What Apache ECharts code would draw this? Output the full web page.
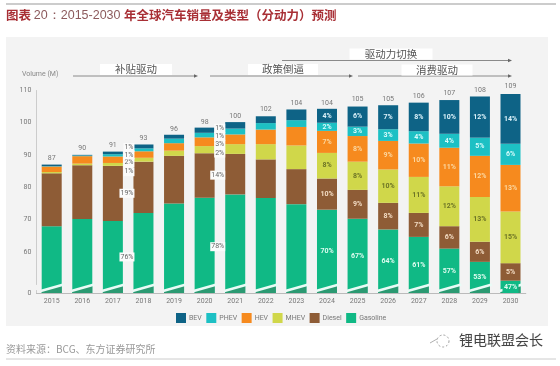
<!DOCTYPE html>
<html><head><meta charset="utf-8">
<style>html,body{margin:0;padding:0;background:#fff}#c{width:560px;height:366px}</style>
<script src="https://cdn.jsdelivr.net/npm/echarts@6/dist/echarts.min.js"></script>
</head><body><div id="c"></div>
<script>
const years=['2015','2016','2017','2018','2019','2020','2021','2022','2023','2024','2025','2026','2027','2028','2029','2030'];
const totals=[87,90,91,93,96,98,100,102,104,104,105,105,106,107,108,109];
const gasoline=[68,70.2,69.6,72.1,75,76.8,77.8,76.7,74.8,73.1,70.3,67,64.7,61.1,57,51.2];
const diesel=[16.3,16.6,17,15.8,14.7,13.7,12.5,11.9,10.8,9.6,8.9,8.2,7.4,6.9,6.2,5.4];
const mhev=[0.4,0.5,0.9,1.2,1.6,2.2,3,4.7,7.3,7.9,8.7,10.3,11.1,12.3,13.8,15.9];
const hev=[1.7,2.3,2,2,2.3,2.7,3,4.5,5.7,6.8,7.9,8.8,10.3,11.9,12.7,14.4];
const phev=[0.1,0.2,0.7,0.9,1.4,1.4,1.8,2,2.1,2.5,2.9,3.6,3.8,4.3,5.6,6.5];
const bev=[0.5,0.2,0.8,1.2,1.2,1.6,2,2.1,3.3,4.3,6.2,7.4,8.8,10.4,12.7,15.4];
const gasolineLabels=['','','','76%','','','78%','','','70%','67%','64%','61%','57%','53%','47%'];
const dieselLabels=['','','','19%','','','14%','','','10%','9%','8%','7%','6%','6%','5%'];
const mhevLabels=['','','','1%','','','2%','','','8%','8%','10%','11%','12%','13%','15%'];
const hevLabels=['','','','2%','','','3%','','','7%','8%','9%','10%','11%','12%','13%'];
const phevLabels=['','','','1%','','','1%','','','2%','3%','3%','4%','4%','5%','6%'];
const bevLabels=['','','','1%','','','1%','','','4%','6%','7%','8%','10%','12%','14%'];
const axisTicks=[0,60,70,80,90,100,110];

const sideYears=['2018','2021'];
const lowYear='2030';
const sideNudge={BEV:[1,3],PHEV:[5,5],HEV:[8,5],MHEV:[12,4],Diesel:[6,1],Gasoline:[4,3]};
function build(name,vals,labs,color,labColor){
  return {name,type:'bar',stack:'t',barWidth:20,itemStyle:{color},
    label:{show:false},
    data:vals.map((v,i)=>{
      const y=years[i],l=labs[i];
      if(!l || (name==='Gasoline' && y===lowYear)) return {value:v};
      if(sideYears.includes(y)){
        const k=sideYears.indexOf(y);
        return {value:v,label:{show:true,position:'left',distance:k==0?-1:0,offset:[0,sideNudge[name][k]],formatter:l,fontSize:7,color:'#666',
          backgroundColor:'#fbfbfb',padding:[1,1],fontFamily:'Roboto'}};
      }
      return {value:v,label:{show:true,position:'inside',formatter:l,fontSize:7,fontWeight:'bold',color:labColor,fontFamily:'Roboto'}};
    })};
}
const series=[
  build('Gasoline',gasoline,gasolineLabels,'#10b985','#dffcf0'),
  build('Diesel',diesel,dieselLabels,'#8e5c36','#f3dcc4'),
  build('MHEV',mhev,mhevLabels,'#d0d74a','#6d7426'),
  build('HEV',hev,hevLabels,'#f68a1e','#fbd7a0'),
  build('PHEV',phev,phevLabels,'#1dc0c4','#d6fbfb'),
  build('BEV',bev,bevLabels,'#0e6386','#dcf2fa'),
  {name:'total',type:'line',data:totals,symbol:'circle',symbolSize:0,showSymbol:true,showAllSymbol:true,lineStyle:{opacity:0,width:0},silent:true,z:5,
    label:{show:true,position:'top',distance:3,fontSize:7,color:'#777',fontFamily:'Roboto'}},
  {name:'break',type:'custom',silent:true,z:6,data:years.map((y,i)=>[i,0]),clip:false,
    renderItem(params,api){
      const i=api.value(0),p=api.coord([i,0]),x=p[0],y=p[1];
      const kids=[
        {type:'polygon',shape:{points:[[x-10,y],[x+10,y],[x+10,y-7],[x-10,y-2]]},style:{fill:'#2b9a72'}},
        {type:'line',shape:{x1:x-11,y1:y-2,x2:x+12,y2:y-8.5},style:{stroke:'#e9fbf6',lineWidth:2.5}}
      ];
      if(years[i]===lowYear){
        kids.push({type:'rect',shape:{x:x-8,y:y-10,width:16,height:10},style:{fill:'#10b985'}});
        kids.push({type:'text',style:{text:gasolineLabels[i],x:x,y:y-5.5,align:'center',verticalAlign:'middle',fontSize:7,fontWeight:'bold',fill:'#dffcf0',fontFamily:'Roboto'}});
      }
      return {type:'group',children:kids};
    },encode:{x:0,y:1}},
  {name:'zero',type:'custom',silent:true,z:6,data:[[0,axisTicks[0]]],clip:false,
    renderItem(params,api){
      const p=api.coord([0,api.value(1)]),g=params.coordSys;
      return {type:'text',style:{text:String(api.value(1)),x:g.x-5,y:p[1],align:'right',verticalAlign:'middle',fontSize:7,fill:'#777',fontFamily:'Roboto'}};
    },encode:{x:0,y:1}}
];

const ann=[
 {t:'补贴驱动',cx:136,cy:69.5,w:72,x1:73,x2:197,ly:76},
 {t:'政策倒逼',cx:283,cy:69.5,w:70,x1:210,x2:352,ly:76},
 {t:'驱动力切换',cx:391,cy:54,w:83,x1:282,x2:511,ly:60.5},
 {t:'消费驱动',cx:437,cy:70,w:71,x1:358,x2:511,ly:76}
];
const graphic=[
 {type:'rect',z:-10,shape:{x:6,y:37,width:542,height:289},style:{fill:'#f3f3f3'}},
 {type:'line',shape:{x1:6,y1:4,x2:556,y2:4},style:{stroke:'#bbb',lineWidth:1.5}},
 {type:'line',shape:{x1:6,y1:359,x2:556,y2:359},style:{stroke:'#ccc',lineWidth:1}},
 {type:'text',x:6,y:9,style:{text:'{a|图表 }{b|20：2015-2030 }{a|年全球汽车销量及类型（分动力）预测}',rich:{
    a:{fontSize:12.5,fontWeight:'bold',fill:'#a82f35',fontFamily:'Noto Sans CJK SC'},
    b:{fontSize:12.5,fill:'#8c5a5c',fontFamily:'Liberation Sans'}}}},
 {type:'text',x:22,y:71,style:{text:'Volume (M)',fontSize:7,fill:'#888',fontFamily:'Roboto'}},
 {type:'text',x:6,y:344,style:{text:'资料来源：BCG、东方证券研究所',fontSize:10,fill:'#999',fontFamily:'Noto Sans CJK SC'}},
 {type:'text',x:459,y:333,style:{text:'锂电联盟会长',fontSize:14,fill:'#444',stroke:'#eee',lineWidth:0.4,fontFamily:'Noto Sans CJK SC'}},
 {type:'circle',shape:{cx:443,cy:341,r:6},style:{fill:'none',stroke:'#888',lineWidth:0.8,lineDash:[2,2]}},
 {type:'line',shape:{x1:430,y1:343,x2:437,y2:339},style:{stroke:'#999',lineWidth:0.8}}
];
ann.forEach(a=>{
 graphic.push({type:'line',shape:{x1:a.x1,y1:a.ly,x2:a.x2-2,y2:a.ly},style:{stroke:'#8a8a8a',lineWidth:1}});
 graphic.push({type:'polygon',shape:{points:[[a.x2+1,a.ly],[a.x2-3,a.ly-1.8],[a.x2-3,a.ly+1.8]]},style:{fill:'#666'}});
 graphic.push({type:'rect',shape:{x:a.cx-a.w/2,y:a.cy-5.5,width:a.w,height:11},style:{fill:'#fff'}});
 graphic.push({type:'text',x:a.cx,y:a.cy,style:{text:a.t,align:'center',verticalAlign:'middle',fontSize:10.5,fill:'#555',fontFamily:'Noto Sans CJK SC'}});
});

const chart=echarts.init(document.getElementById('c'),null,{renderer:'canvas'});
chart.setOption({
 animation:false,backgroundColor:'#fff',
 grid:{left:36.4,right:34.2,top:90,bottom:73,containLabel:false},
 legend:{left:176,top:313,padding:0,itemWidth:10,itemHeight:10,itemGap:4.5,icon:'rect',
   data:['BEV','PHEV','HEV','MHEV','Diesel','Gasoline'],
   textStyle:{fontSize:7,color:'#777',fontFamily:'Roboto',padding:[0,0,0,-2]}},
 xAxis:{type:'category',data:years,axisTick:{show:false},
   axisLine:{lineStyle:{color:'#bbb'}},
   axisLabel:{fontSize:7,color:'#777',margin:5,fontFamily:'Roboto',interval:0}},
 yAxis:{type:'value',min:0,max:110,interval:10,splitLine:{show:false},axisTick:{show:false},
   axisLine:{show:true,lineStyle:{color:'#ccc'}},
   breaks:[{start:1,end:50,gap:1.6}],
   breakArea:{show:false},
   axisLabel:{fontSize:7,color:'#777',margin:5,fontFamily:'Roboto',
     formatter:v=>(v>0&&axisTicks.includes(v))?String(v):''}},
 series,graphic
});
</script></body></html>
